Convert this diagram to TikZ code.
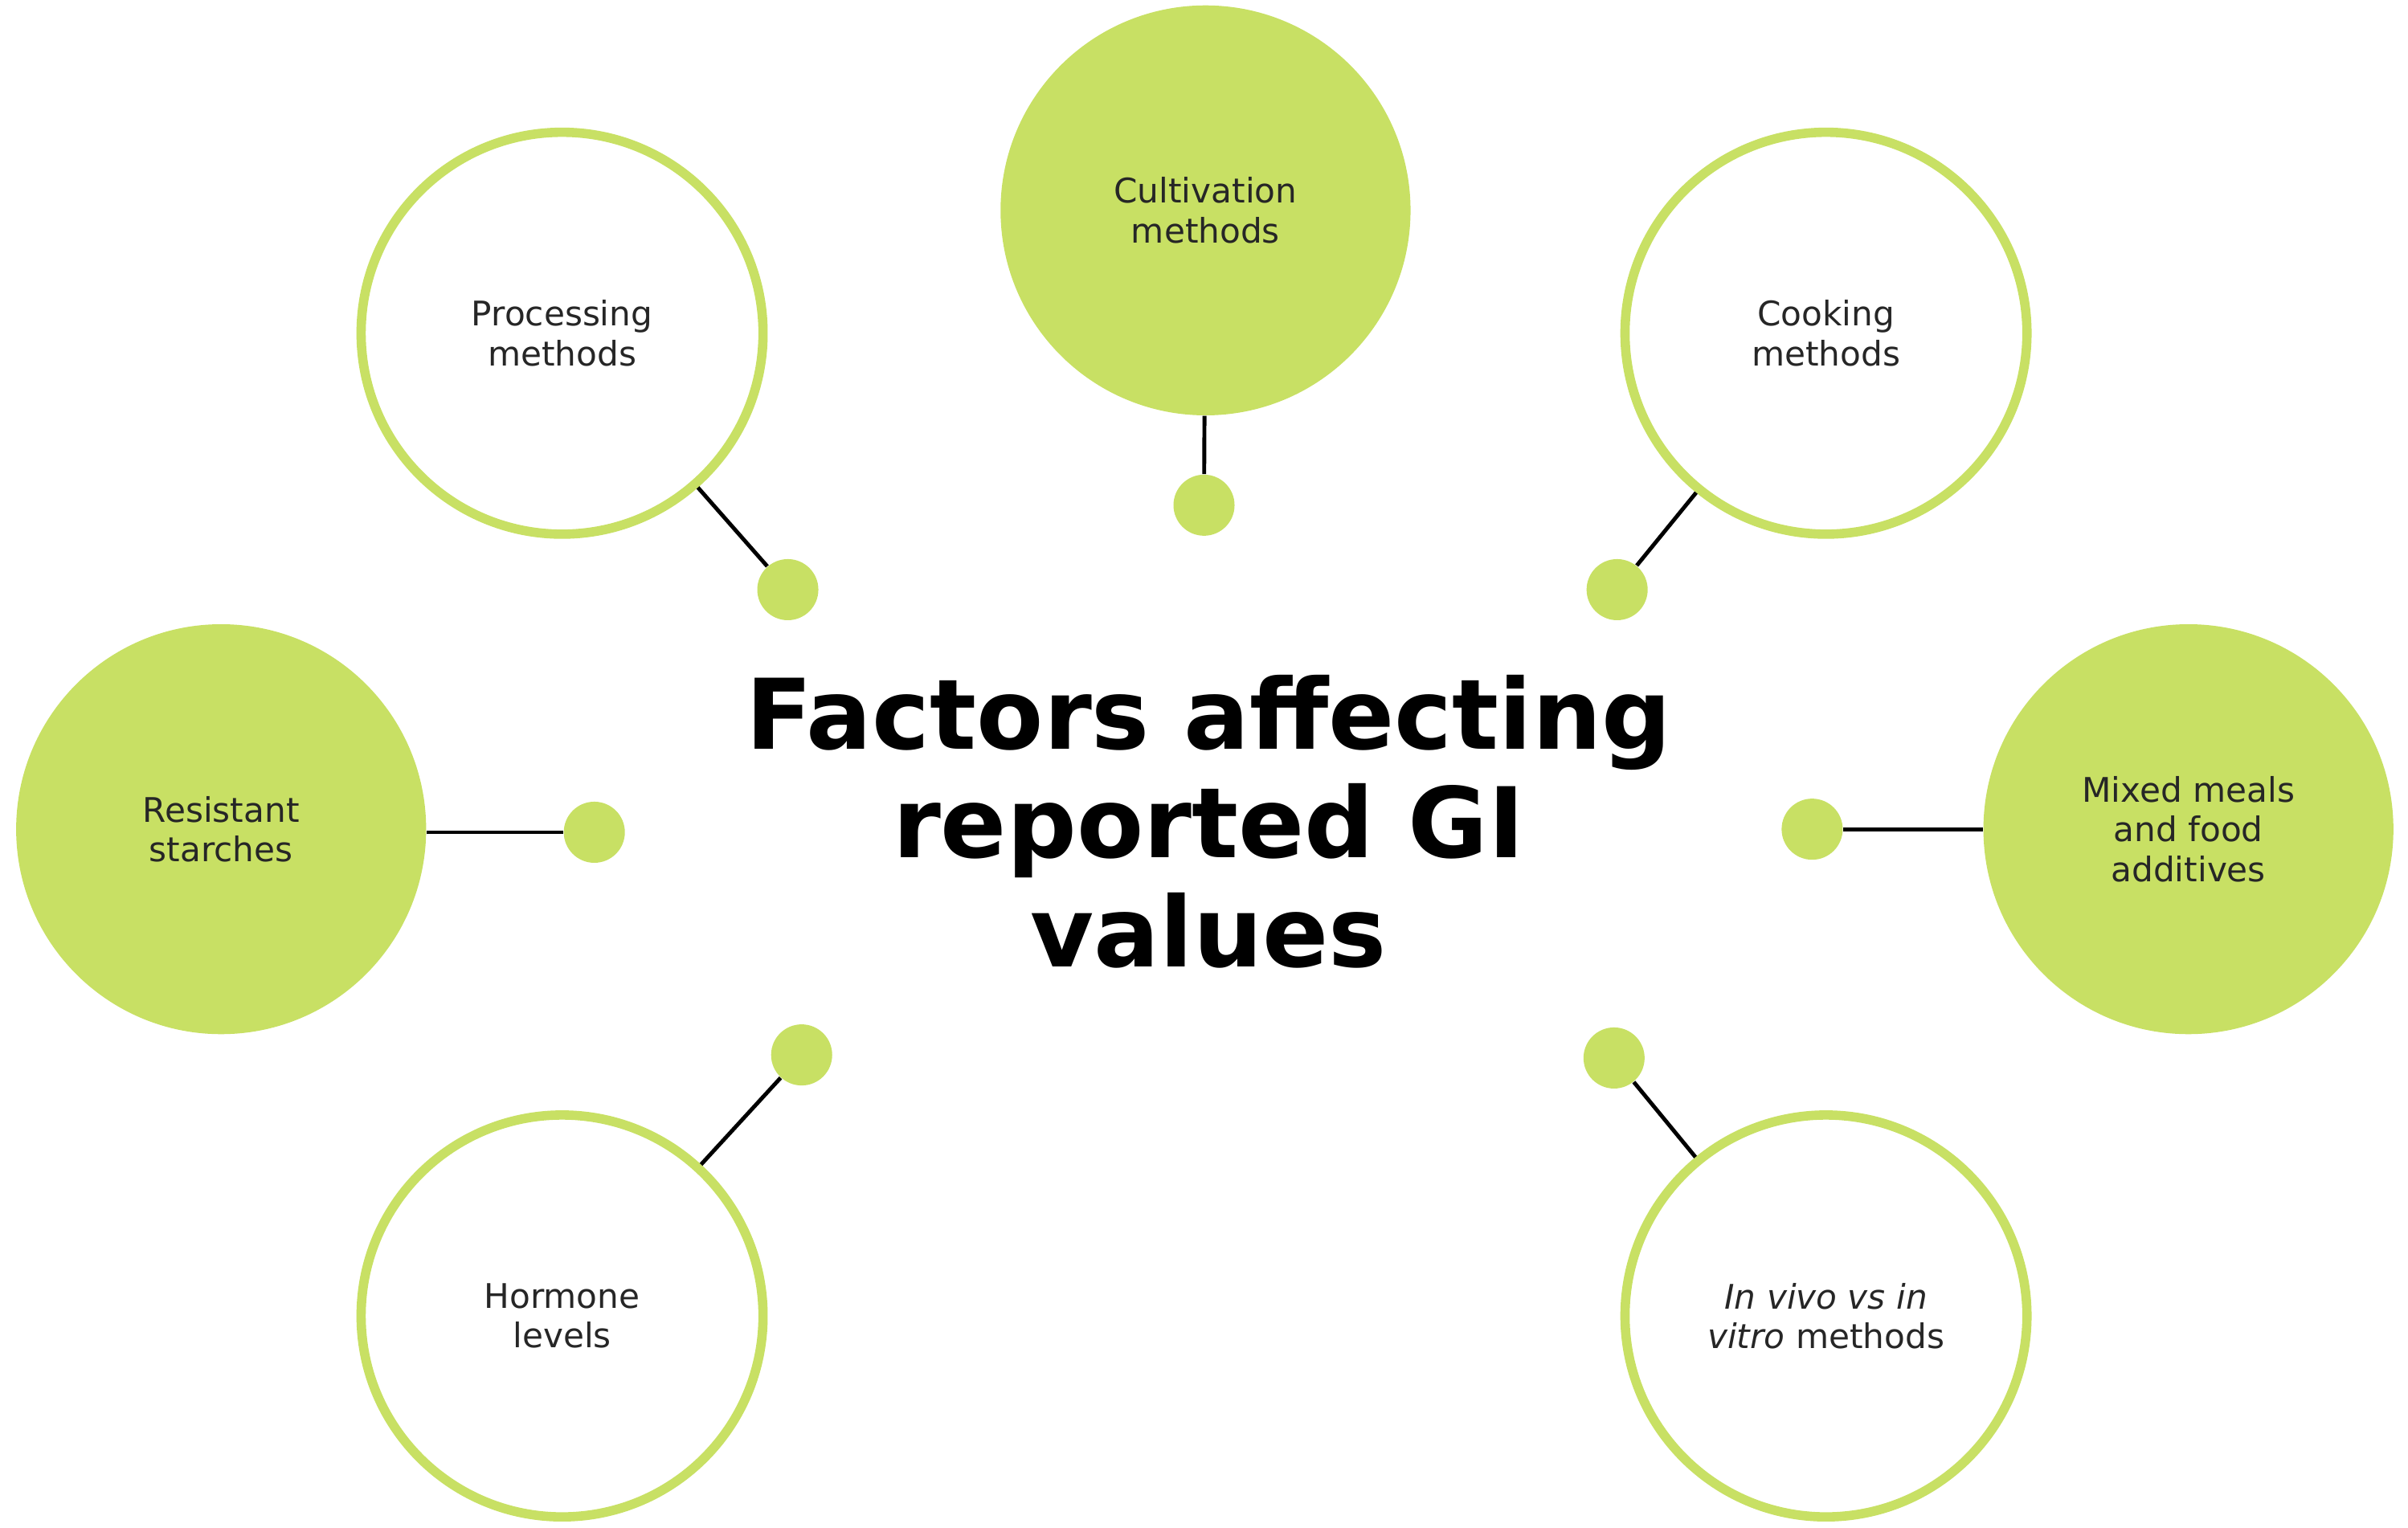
\documentclass[tikz,border=0pt]{standalone}
\usepackage{fontspec}
\setmainfont{DejaVu Sans}
\begin{document}
\definecolor{gr}{HTML}{C8E064}
\begin{tikzpicture}[x=0.01911cm,y=-0.01911cm,
 big/.style={circle,minimum size=5.1cm,inner sep=0pt,align=center,font=\fontsize{12}{14}\selectfont,text=black!85},
 solid disc/.style={big,fill=gr},
 ring/.style={big,draw=gr,line width=3.3pt,minimum size=5.0cm},
 dot/.style={circle,fill=gr,minimum size=0.76cm,inner sep=0pt},
 ln/.style={line width=1.4pt,black}]
\useasboundingbox (0,0) rectangle (1568,995);
\node[ring] (p) at (366,217) {Processing\\methods};
\node[solid disc] (c) at (785,137) {Cultivation\\methods};
\node[ring] (k) at (1189,217) {Cooking\\methods};
\node[solid disc] (r) at (144,540) {Resistant\\starches};
\node[solid disc] (m) at (1425,540) {Mixed meals\\and food\\additives};
\node[ring] (h) at (366,857) {Hormone\\levels};
\node[ring] (v) at (1189,857) {\itshape In vivo vs in\\\itshape vitro\upshape{} methods};
\node[dot] (pd) at (513,384) {};
\node[dot] (cd) at (784,329) {};
\node[dot] (kd) at (1053,384) {};
\node[dot] (rd) at (387,542) {};
\node[dot] (md) at (1180,540) {};
\node[dot] (hd) at (522,687) {};
\node[dot] (vd) at (1051,689) {};
\draw[ln] (p) -- (pd);
\draw[ln] (c) -- (cd);
\draw[ln] (k) -- (kd);
\draw[ln] (r.east |- rd) -- (rd);
\draw[ln] (m.west) -- (md);
\draw[ln] (h) -- (hd);
\draw[ln] (v) -- (vd);
\node[align=center,font=\bfseries\fontsize{34.5}{38.5}\selectfont] (t) at (787,535) {Factors affecting\\reported GI\\values};
\end{tikzpicture}
\end{document}
